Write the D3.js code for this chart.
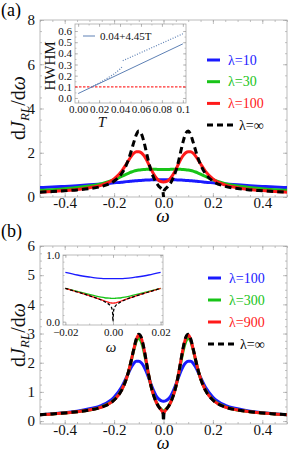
<!DOCTYPE html>
<html><head><meta charset="utf-8">
<script src="https://cdn.jsdelivr.net/npm/d3@7"></script>
<style>body{margin:0;background:#fff}svg{display:block}text{font-family:"Liberation Serif","DejaVu Serif",serif}</style>
</head><body>
<svg id="c" width="291" height="453"></svg>
<script>
// ---------- data ----------
const omega = [-0.5,-0.45,-0.4,-0.35,-0.3,-0.25,-0.2,-0.17,-0.15,-0.14,-0.13,-0.12,-0.11,-0.1,-0.09,-0.08,-0.07,-0.06,-0.05,-0.04,-0.03,-0.02,-0.01,-0.005,-0.002,0,0.002,0.005,0.01,0.02,0.03,0.04,0.05,0.06,0.07,0.08,0.09,0.1,0.11,0.12,0.13,0.14,0.15,0.17,0.2,0.25,0.3,0.35,0.4,0.45,0.5];
const lam10  = [0.43,0.45,0.48,0.51,0.55,0.59,0.64,0.67,0.695,0.705,0.715,0.725,0.735,0.745,0.75,0.76,0.765,0.77,0.775,0.78,0.78,0.78,0.78,0.78,0.78,0.78,0.78,0.78,0.78,0.78,0.78,0.78,0.775,0.77,0.765,0.76,0.75,0.745,0.735,0.725,0.715,0.705,0.695,0.67,0.64,0.59,0.55,0.51,0.48,0.45,0.43];
const lam30  = [0.3,0.33,0.37,0.43,0.5,0.6,0.78,0.93,1.03,1.08,1.13,1.17,1.2,1.22,1.235,1.245,1.25,1.255,1.255,1.25,1.25,1.245,1.24,1.24,1.24,1.24,1.24,1.24,1.24,1.245,1.25,1.25,1.255,1.255,1.25,1.245,1.235,1.22,1.2,1.17,1.13,1.08,1.03,0.93,0.78,0.6,0.5,0.43,0.37,0.33,0.3];
const lam100 = [0.22,0.25,0.29,0.34,0.42,0.54,0.82,1.16,1.5,1.68,1.85,1.98,2.05,2.05,2.0,1.88,1.7,1.48,1.25,1.04,0.87,0.76,0.70,0.685,0.68,0.68,0.68,0.685,0.70,0.76,0.87,1.04,1.25,1.48,1.7,1.88,2.0,2.05,2.05,1.98,1.85,1.68,1.5,1.16,0.82,0.54,0.42,0.34,0.29,0.25,0.22];
const lam300 = [0.22,0.245,0.28,0.32,0.38,0.49,0.73,1.06,1.46,1.75,2.09,2.45,2.74,2.84,2.72,2.42,2.0,1.56,1.18,0.89,0.67,0.51,0.41,0.365,0.352,0.35,0.352,0.365,0.41,0.51,0.67,0.89,1.18,1.56,2.0,2.42,2.72,2.84,2.74,2.45,2.09,1.75,1.46,1.06,0.73,0.49,0.38,0.32,0.28,0.245,0.22];
const lam900 = [0.22,0.245,0.28,0.32,0.38,0.48,0.72,1.05,1.46,1.75,2.1,2.47,2.8,2.95,2.84,2.51,2.05,1.58,1.18,0.88,0.66,0.5,0.39,0.33,0.29,0.28,0.29,0.33,0.39,0.5,0.66,0.88,1.18,1.58,2.05,2.51,2.84,2.95,2.8,2.47,2.1,1.75,1.46,1.05,0.72,0.48,0.38,0.32,0.28,0.245,0.22];
const lamInf = [0.22,0.245,0.28,0.32,0.38,0.48,0.72,1.05,1.46,1.75,2.1,2.48,2.82,2.98,2.87,2.53,2.06,1.58,1.18,0.88,0.66,0.5,0.39,0.33,0.26,0,0.26,0.33,0.39,0.5,0.66,0.88,1.18,1.58,2.06,2.53,2.87,2.98,2.82,2.48,2.1,1.75,1.46,1.05,0.72,0.48,0.38,0.32,0.28,0.245,0.22];

// inset (b): zoom near omega = 0
const omegaIn = [-0.02,-0.015,-0.01,-0.0075,-0.005,-0.0035,-0.0025,-0.0015,-0.001,-0.0005,-0.0002,0,0.0002,0.0005,0.001,0.0015,0.0025,0.0035,0.005,0.0075,0.01,0.015,0.02];
const in100 = [0.74,0.70,0.67,0.657,0.65,0.647,0.646,0.645,0.645,0.645,0.645,0.645,0.645,0.645,0.645,0.645,0.646,0.647,0.65,0.657,0.67,0.70,0.74];
const in300 = [0.50,0.455,0.41,0.387,0.368,0.359,0.355,0.352,0.351,0.35,0.35,0.35,0.35,0.35,0.351,0.352,0.355,0.359,0.368,0.387,0.41,0.455,0.50];
const in900 = [0.50,0.445,0.392,0.362,0.33,0.31,0.297,0.287,0.283,0.28,0.279,0.279,0.279,0.28,0.283,0.287,0.297,0.31,0.33,0.362,0.392,0.445,0.50];
const inInf = [0.50,0.445,0.39,0.36,0.325,0.3,0.28,0.255,0.235,0.2,0.15,0.0,0.15,0.2,0.235,0.255,0.28,0.3,0.325,0.36,0.39,0.445,0.50];

// inset (a): HWHM vs T
const fitT = [0, 0.1];
const fitV = [0.04, 0.485];
const dotT1 = [0.012,0.02,0.025,0.03,0.035,0.04,0.042];
const dotV1 = [0.095,0.135,0.16,0.19,0.22,0.26,0.28];
const dotT2 = [0.0426,0.1];
const dotV2 = [0.334,0.575];
const threshold = 0.1;

const xTicksMain = [-0.4,-0.2,0,0.2,0.4];
const yTicksA = [0,2,4,6,8];
const yTicksB = [0,1,2,3,4,5,6];
const xTicksInA = [0,0.02,0.04,0.06,0.08,0.1];
const xLabelsInA = ["0.00","0.02","0.04","0.06","0.08","0.1"];
const yTicksInA = [0,0.1,0.2,0.3,0.4,0.5,0.6];
const xTicksInB = [-0.02,0,0.02];
const yTicksInB = [0,1];

const legA = [{t:"λ=10",c:"#1a1aff"},{t:"λ=30",c:"#18c418"},{t:"λ=100",c:"#ff1a1a"},{t:"λ=∞",c:"#000"}];
const legB = [{t:"λ=100",c:"#1a1aff"},{t:"λ=300",c:"#18c418"},{t:"λ=900",c:"#ff1a1a"},{t:"λ=∞",c:"#000"}];

// ---------- drawing ----------
const svg = d3.select("#c");
const BLUE="#1a1aff", GREEN="#18c418", RED="#ff1a1a", BLACK="#000";
let clipId = 0;

function frame(x, y, o) {
  const g = svg.append("g");
  const [xa,xb] = x.range(), [yb,ya] = y.range();
  if (o.bg) g.append("rect").attr("x",xa).attr("y",ya).attr("width",xb-xa).attr("height",yb-ya).attr("fill","#fff");
  const ax = (gen, sc, vals, size, fmt, tr, pad) => {
    const a = g.append("g").attr("transform",tr)
      .call(gen(sc).tickValues(vals).tickSize(size).tickPadding(pad).tickFormat(fmt));
    a.select(".domain").remove();
    a.selectAll("line").attr("stroke","#999").attr("stroke-width",0.6);
    a.selectAll("text").attr("font-family",'"Liberation Serif",serif').attr("font-size",o.fs).attr("fill","#111");
    return a;
  };
  ax(d3.axisBottom, x, o.xMajor, -o.maj, o.xFmt, `translate(0,${yb})`, o.xPad);
  ax(d3.axisBottom, x, o.xMinor, -o.min, ()=>"", `translate(0,${yb})`, 0);
  ax(d3.axisTop, x, o.xMajor, -o.maj, ()=>"", `translate(0,${ya})`, 0);
  ax(d3.axisTop, x, o.xMinor, -o.min, ()=>"", `translate(0,${ya})`, 0);
  ax(d3.axisLeft, y, o.yMajor, -o.maj, o.yFmt, `translate(${xa},0)`, o.yPad);
  ax(d3.axisLeft, y, o.yMinor, -o.min, ()=>"", `translate(${xa},0)`, 0);
  ax(d3.axisRight, y, o.yMajor, -o.maj, ()=>"", `translate(${xb},0)`, 0);
  ax(d3.axisRight, y, o.yMinor, -o.min, ()=>"", `translate(${xb},0)`, 0);
  g.append("rect").attr("x",xa).attr("y",ya).attr("width",xb-xa).attr("height",yb-ya)
    .attr("fill","none").attr("stroke","#aaa").attr("stroke-width",0.8);
  const id = "clip"+(clipId++);
  svg.append("clipPath").attr("id",id).append("rect").attr("x",xa).attr("y",ya).attr("width",xb-xa).attr("height",yb-ya);
  const plot = svg.append("g").attr("clip-path",`url(#${id})`);
  return plot;
}

function curve(g, xs, ys, x, y, color, w, dash) {
  const line = d3.line().x(d=>x(d[0])).y(d=>y(d[1])).curve(d3.curveMonotoneX);
  const p = g.append("path").datum(xs.map((v,i)=>[v,ys[i]])).attr("d",line)
    .attr("fill","none").attr("stroke",color).attr("stroke-width",w).attr("stroke-linejoin","round");
  if (dash) p.attr("stroke-dasharray",dash);
  return p;
}

function legend(items, x0, y0, dy) {
  items.forEach((it,i)=>{
    const yy = y0 + i*dy;
    const dashed = it.t === "λ=∞";
    const l = svg.append("line").attr("x1",x0).attr("x2",dashed?x0+26:x0+13).attr("y1",yy).attr("y2",yy)
      .attr("stroke",it.c).attr("stroke-width",3);
    if (dashed) l.attr("stroke-dasharray","6,4");
    svg.append("text").attr("x",dashed?x0+32:x0+21).attr("y",yy+4.5).attr("font-size",14).attr("fill",it.c).text(it.t);
  });
}

function yLabel(cx, cy) {
  const t = svg.append("text").attr("transform",`translate(${cx},${cy}) rotate(-90)`)
    .attr("text-anchor","middle").attr("font-size",20).attr("fill","#111");
  t.append("tspan").text("d");
  t.append("tspan").attr("font-style","italic").text("J");
  t.append("tspan").attr("font-style","italic").attr("font-size",13).attr("dy",4).text("RL");
  t.append("tspan").attr("dy",-4).text("/d");
  t.append("tspan").attr("font-style","italic").text("ω");
}

const mainFmt = d => d3.format(".1f")(d).replace("−","-");

// ===== panel (a) =====
const xA = d3.scaleLinear([-0.5,0.5],[40,287]);
const yA = d3.scaleLinear([0,8],[197,20]);
const pa = frame(xA, yA, {xMajor:xTicksMain, xMinor:d3.range(-0.5,0.501,0.05), yMajor:yTicksA, yMinor:d3.range(0,8.01,0.5),
  maj:4, min:2, fs:15, xFmt:mainFmt, yFmt:d3.format("d"), xPad:0, yPad:5});
curve(pa, omega, lam10, xA, yA, BLUE, 3);
curve(pa, omega, lam30, xA, yA, GREEN, 3);
curve(pa, omega, lam100, xA, yA, RED, 3);
curve(pa, omega, lamInf, xA, yA, BLACK, 3, "6.5,4");
legend(legA, 207, 60, 21.7);
svg.append("text").attr("x",1).attr("y",16).attr("font-size",18).text("(a)");
yLabel(25, 108);
svg.append("text").attr("x",163).attr("y",222).attr("text-anchor","middle").attr("font-size",19).attr("font-style","italic").text("ω");

// inset (a)
const xIA = d3.scaleLinear([-0.003,0.103],[75,186]);
const yIA = d3.scaleLinear([-0.045,0.663],[103,24]);
const pia = frame(xIA, yIA, {bg:true, xMajor:xTicksInA, xMinor:d3.range(0,0.1001,0.01), yMajor:yTicksInA, yMinor:d3.range(0,0.601,0.05),
  maj:3, min:1.5, fs:11, xFmt:(d,i)=>xLabelsInA[i], yFmt:d3.format(".1f"), xPad:2, yPad:3});
pia.append("line").attr("x1",xIA.range()[0]).attr("x2",xIA.range()[1]).attr("y1",yIA(threshold)).attr("y2",yIA(threshold))
  .attr("stroke","#ff3030").attr("stroke-width",1.2).attr("stroke-dasharray","2.5,1.5");
curve(pia, fitT, fitV, xIA, yIA, "#5e81b5", 1);
curve(pia, dotT1, dotV1, xIA, yIA, "#5e81b5", 1.2, "1,1.6");
curve(pia, dotT2, dotV2, xIA, yIA, "#5e81b5", 1.2, "1,1.6");
svg.append("line").attr("x1",83).attr("x2",95).attr("y1",36).attr("y2",36).attr("stroke","#5e81b5").attr("stroke-width",1);
svg.append("text").attr("x",100).attr("y",40).attr("font-size",11).attr("fill","#111").text("0.04+4.45T");
svg.append("text").attr("transform","translate(55,66) rotate(-90)").attr("text-anchor","middle").attr("font-size",15).attr("fill","#111").text("HWHM");
svg.append("text").attr("x",102).attr("y",127).attr("text-anchor","middle").attr("font-size",15).attr("font-style","italic").attr("fill","#111").text("T");

// ===== panel (b) =====
const xB = d3.scaleLinear([-0.5,0.5],[40,287]);
const yB = d3.scaleLinear([-0.1,6],[424,246]);
const pb = frame(xB, yB, {xMajor:xTicksMain, xMinor:d3.range(-0.5,0.501,0.05), yMajor:yTicksB, yMinor:d3.range(0,6.01,0.25),
  maj:4, min:2, fs:15, xFmt:mainFmt, yFmt:d3.format("d"), xPad:0, yPad:5});
curve(pb, omega, lam100, xB, yB, BLUE, 3);
curve(pb, omega, lam300, xB, yB, GREEN, 3);
curve(pb, omega, lam900, xB, yB, RED, 3);
curve(pb, omega, lamInf, xB, yB, BLACK, 3, "6.5,4");
legend(legB, 208, 278, 22);
svg.append("text").attr("x",1).attr("y",237).attr("font-size",18).text("(b)");
yLabel(25, 335);
svg.append("text").attr("x",163).attr("y",449).attr("text-anchor","middle").attr("font-size",18).attr("font-style","italic").text("ω");

// inset (b)
const xIB = d3.scaleLinear([-0.021,0.021],[63,163]);
const yIB = d3.scaleLinear([-0.05,1.0],[325,255]);
const pib = frame(xIB, yIB, {bg:true, xMajor:xTicksInB, xMinor:d3.range(-0.02,0.0201,0.005), yMajor:yTicksInB, yMinor:d3.range(0,1.001,0.1),
  maj:3, min:1.5, fs:11, xFmt:d3.format(".2f"), yFmt:d3.format(".1f"), xPad:3, yPad:3});
curve(pib, omegaIn, in100, xIB, yIB, BLUE, 1.3);
curve(pib, omegaIn, in300, xIB, yIB, GREEN, 1.3);
curve(pib, omegaIn, in900, xIB, yIB, RED, 1.3);
curve(pib, omegaIn, inInf, xIB, yIB, BLACK, 1.3, "3,2");
svg.append("text").attr("x",111).attr("y",352).attr("text-anchor","middle").attr("font-size",15).attr("font-style","italic").attr("fill","#111").text("ω");
</script>
</body></html>
